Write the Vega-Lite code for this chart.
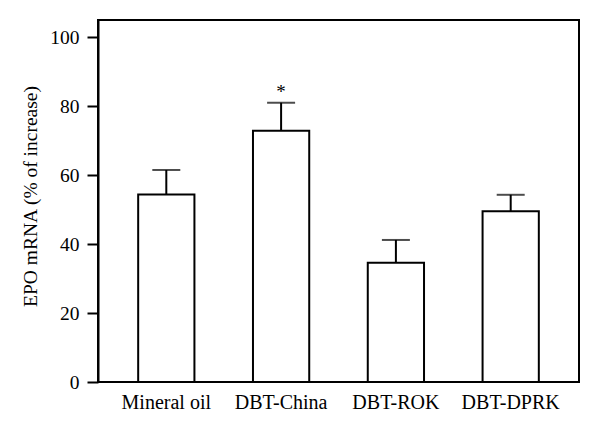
{
  "$schema": "https://vega.github.io/schema/vega-lite/v6.json",
  "autosize": "none",
  "width": 481,
  "height": 362,
  "padding": {"left": 98, "top": 20, "right": 21, "bottom": 53},
  "background": "white",
  "config": {
    "view": {"stroke": "black", "strokeWidth": 2},
    "font": "Liberation Serif",
    "axis": {"labelFont": "Liberation Serif", "titleFont": "Liberation Serif", "labelColor": "black", "titleColor": "black", "grid": false}
  },
  "data": {
    "values": [
      {"group": "Mineral oil", "value": 54.4, "upper": 61.5, "sig": ""},
      {"group": "DBT-China", "value": 72.9, "upper": 81.0, "sig": "*"},
      {"group": "DBT-ROK", "value": 34.6, "upper": 41.2, "sig": ""},
      {"group": "DBT-DPRK", "value": 49.5, "upper": 54.3, "sig": ""}
    ]
  },
  "encoding": {
    "x": {
      "field": "group", "type": "nominal", "sort": null,
      "scale": {"paddingInner": 0.51, "paddingOuter": 0.35},
      "axis": {"title": null, "labelAngle": 0, "ticks": false, "domain": false, "labelFontSize": 20, "labelPadding": 10, "labelColor": "black"}
    }
  },
  "layer": [
    {
      "mark": {"type": "bar", "fill": "white", "stroke": "black", "strokeWidth": 2},
      "encoding": {
        "y": {
          "field": "value", "type": "quantitative",
          "scale": {"domain": [0, 105], "nice": false},
          "axis": {
            "title": "EPO mRNA (% of increase)", "values": [0, 20, 40, 60, 80, 100],
            "titleFontSize": 19.5, "titleFontWeight": "normal", "titleColor": "black", "labelFontSize": 19.5, "labelColor": "black",
            "tickSize": 11, "tickWidth": 2, "tickColor": "black", "domainColor": "black", "domainWidth": 2,
            "labelPadding": 8, "titleX": -62, "titleY": 176, "titleAngle": -90, "titleAlign": "center", "titleBaseline": "alphabetic"
          }
        }
      }
    },
    {
      "mark": {"type": "rule", "stroke": "black", "strokeWidth": 2},
      "encoding": {"y": {"field": "value", "type": "quantitative"}, "y2": {"field": "upper"}}
    },
    {
      "mark": {"type": "tick", "color": "black", "size": 28, "thickness": 2, "orient": "horizontal"},
      "encoding": {"y": {"field": "upper", "type": "quantitative"}}
    },
    {
      "mark": {"type": "text", "fontSize": 19, "color": "black", "baseline": "alphabetic", "dy": -5},
      "encoding": {"y": {"field": "upper", "type": "quantitative"}, "text": {"field": "sig"}}
    }
  ]
}
